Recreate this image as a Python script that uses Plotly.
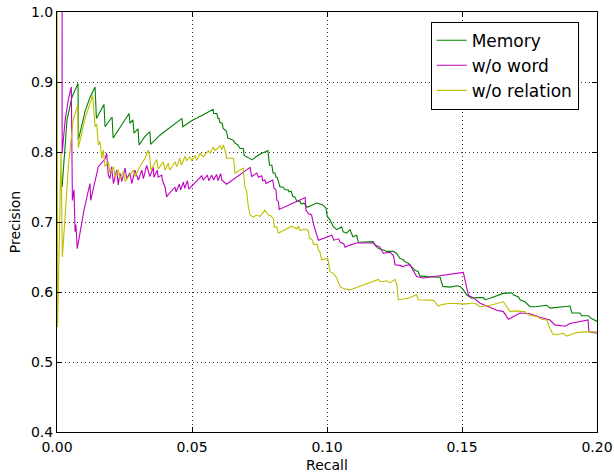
import plotly.graph_objects as go

# ---- data (recall, precision) ----
memory_recall = [0.0019, 0.0037, 0.0056, 0.0078, 0.0079, 0.0104, 0.0122, 0.0141, 0.0146, 0.0174,
                 0.0178, 0.0204, 0.0208, 0.0267, 0.0270, 0.0281, 0.0285, 0.0300, 0.0304, 0.0325,
                 0.0344, 0.0347, 0.0381, 0.0420, 0.0463, 0.0466, 0.0500, 0.0540, 0.0578, 0.0580,
                 0.0592, 0.0596, 0.0600, 0.0603, 0.0612, 0.0615, 0.0627, 0.0633, 0.0652, 0.0659,
                 0.0670, 0.0678, 0.0690, 0.0693, 0.0715, 0.0722, 0.0748, 0.0781, 0.0787, 0.0796,
                 0.0800, 0.0807, 0.0811, 0.0815, 0.0826, 0.0837, 0.0844, 0.0856, 0.0859, 0.0867,
                 0.0874, 0.0881, 0.0889, 0.0899, 0.0904, 0.0915, 0.0926, 0.0946, 0.0963, 0.0986,
                 0.0996, 0.1001, 0.1011, 0.1024, 0.1036, 0.1054, 0.1060, 0.1073, 0.1085, 0.1096,
                 0.1110, 0.1116, 0.1147, 0.1171, 0.1178, 0.1190, 0.1209, 0.1221, 0.1246, 0.1258,
                 0.1270, 0.1283, 0.1289, 0.1301, 0.1314, 0.1326, 0.1338, 0.1344, 0.1369, 0.1394,
                 0.1419, 0.1429, 0.1456, 0.1480, 0.1493, 0.1505, 0.1517, 0.1536, 0.1554, 0.1579,
                 0.1585, 0.1604, 0.1616, 0.1641, 0.1653, 0.1684, 0.1690, 0.1709, 0.1715, 0.1733,
                 0.1746, 0.1752, 0.1770, 0.1789, 0.1814, 0.1826, 0.1863, 0.1900, 0.1907, 0.1925,
                 0.1937, 0.1943, 0.1967, 0.1980, 0.1993, 0.2000]
memory_precision = [0.750, 0.846, 0.879, 0.898, 0.817, 0.858, 0.878, 0.893, 0.848, 0.868,
                    0.836, 0.850, 0.820, 0.855, 0.841, 0.846, 0.827, 0.833, 0.810, 0.822,
                    0.829, 0.811, 0.824, 0.836, 0.848, 0.836, 0.845, 0.853, 0.861, 0.855,
                    0.855, 0.848, 0.848, 0.842, 0.841, 0.834, 0.830, 0.820, 0.817, 0.813,
                    0.810, 0.805, 0.805, 0.795, 0.791, 0.789, 0.796, 0.802, 0.781, 0.781,
                    0.770, 0.770, 0.764, 0.764, 0.750, 0.750, 0.746, 0.746, 0.743, 0.744,
                    0.736, 0.736, 0.729, 0.730, 0.726, 0.727, 0.721, 0.724, 0.727, 0.724,
                    0.720, 0.708, 0.703, 0.693, 0.689, 0.693, 0.686, 0.684, 0.689, 0.679,
                    0.681, 0.671, 0.672, 0.672, 0.667, 0.662, 0.660, 0.658, 0.658, 0.655,
                    0.648, 0.646, 0.643, 0.641, 0.636, 0.631, 0.629, 0.623, 0.622, 0.621,
                    0.621, 0.608, 0.607, 0.609, 0.608, 0.603, 0.596, 0.591, 0.592, 0.592,
                    0.589, 0.591, 0.593, 0.596, 0.598, 0.599, 0.596, 0.593, 0.589, 0.586,
                    0.581, 0.579, 0.579, 0.580, 0.581, 0.577, 0.578, 0.580, 0.570, 0.570,
                    0.570, 0.566, 0.566, 0.562, 0.559, 0.558]

word_recall = [0.0019, 0.0019, 0.0030, 0.0042, 0.0053, 0.0057, 0.0063, 0.0067, 0.0070, 0.0075,
               0.0100, 0.0122, 0.0125, 0.0153, 0.0178, 0.0184, 0.0190, 0.0196, 0.0202, 0.0209,
               0.0221, 0.0227, 0.0233, 0.0240, 0.0252, 0.0258, 0.0270, 0.0277, 0.0289, 0.0301,
               0.0314, 0.0320, 0.0332, 0.0344, 0.0357, 0.0359, 0.0371, 0.0375, 0.0388, 0.0390,
               0.0400, 0.0406, 0.0412, 0.0437, 0.0441, 0.0453, 0.0458, 0.0468, 0.0473, 0.0483,
               0.0488, 0.0536, 0.0542, 0.0557, 0.0562, 0.0573, 0.0580, 0.0591, 0.0596, 0.0606,
               0.0610, 0.0628, 0.0715, 0.0721, 0.0740, 0.0746, 0.0758, 0.0762, 0.0770, 0.0774,
               0.0799, 0.0804, 0.0811, 0.0814, 0.0820, 0.0823, 0.0919, 0.0922, 0.0931, 0.0943,
               0.0949, 0.0956, 0.0968, 0.1018, 0.1025, 0.1043, 0.1049, 0.1062, 0.1067, 0.1085,
               0.1110, 0.1171, 0.1178, 0.1196, 0.1209, 0.1233, 0.1246, 0.1252, 0.1270, 0.1283,
               0.1289, 0.1307, 0.1320, 0.1332, 0.1357, 0.1505, 0.1524, 0.1542, 0.1567, 0.1592,
               0.1610, 0.1629, 0.1653, 0.1672, 0.1715, 0.1752, 0.1789, 0.1826, 0.1844, 0.1883,
               0.1900, 0.1967, 0.1970, 0.1993, 0.2000]
word_precision = [1.000, 0.798, 0.845, 0.875, 0.893, 0.731, 0.746, 0.686, 0.696, 0.662,
                  0.717, 0.755, 0.731, 0.779, 0.790, 0.798, 0.767, 0.762, 0.779, 0.755,
                  0.774, 0.753, 0.770, 0.758, 0.777, 0.762, 0.770, 0.755, 0.774, 0.760,
                  0.774, 0.762, 0.781, 0.765, 0.778, 0.764, 0.774, 0.764, 0.767, 0.760,
                  0.750, 0.736, 0.739, 0.750, 0.743, 0.754, 0.746, 0.757, 0.748, 0.759,
                  0.747, 0.766, 0.760, 0.767, 0.759, 0.767, 0.760, 0.768, 0.759, 0.769,
                  0.760, 0.754, 0.778, 0.765, 0.770, 0.764, 0.766, 0.759, 0.760, 0.755,
                  0.760, 0.748, 0.746, 0.731, 0.729, 0.718, 0.735, 0.717, 0.712, 0.710,
                  0.698, 0.690, 0.674, 0.681, 0.674, 0.676, 0.671, 0.669, 0.664, 0.667,
                  0.670, 0.670, 0.667, 0.664, 0.655, 0.657, 0.652, 0.639, 0.638, 0.636,
                  0.638, 0.639, 0.630, 0.622, 0.620, 0.628, 0.595, 0.592, 0.584, 0.580,
                  0.577, 0.574, 0.572, 0.561, 0.570, 0.569, 0.564, 0.560, 0.553, 0.551,
                  0.555, 0.560, 0.543, 0.542, 0.541]

relation_recall = [0.0001, 0.0002, 0.0015, 0.0020, 0.0042, 0.0060, 0.0077, 0.0079, 0.0104, 0.0132,
                   0.0141, 0.0147, 0.0153, 0.0159, 0.0166, 0.0171, 0.0178, 0.0190, 0.0196, 0.0209,
                   0.0215, 0.0227, 0.0233, 0.0246, 0.0252, 0.0283, 0.0289, 0.0307, 0.0326, 0.0338,
                   0.0344, 0.0348, 0.0369, 0.0375, 0.0394, 0.0400, 0.0412, 0.0418, 0.0437, 0.0443,
                   0.0455, 0.0461, 0.0474, 0.0480, 0.0492, 0.0499, 0.0511, 0.0517, 0.0530, 0.0542,
                   0.0561, 0.0567, 0.0579, 0.0585, 0.0604, 0.0610, 0.0616, 0.0626, 0.0628, 0.0654,
                   0.0659, 0.0690, 0.0696, 0.0702, 0.0708, 0.0715, 0.0727, 0.0739, 0.0752, 0.0770,
                   0.0783, 0.0792, 0.0802, 0.0804, 0.0814, 0.0820, 0.0869, 0.0875, 0.0888, 0.0894,
                   0.0900, 0.0919, 0.0931, 0.0935, 0.0944, 0.0951, 0.0964, 0.0968, 0.0974, 0.0980,
                   0.1003, 0.1011, 0.1023, 0.1036, 0.1048, 0.1060, 0.1085, 0.1190, 0.1196, 0.1209,
                   0.1221, 0.1233, 0.1252, 0.1259, 0.1264, 0.1301, 0.1332, 0.1338, 0.1369, 0.1394,
                   0.1412, 0.1425, 0.1456, 0.1481, 0.1499, 0.1518, 0.1530, 0.1548, 0.1567, 0.1604,
                   0.1629, 0.1653, 0.1666, 0.1678, 0.1696, 0.1715, 0.1733, 0.1746, 0.1764, 0.1777,
                   0.1795, 0.1814, 0.1826, 0.1836, 0.1851, 0.1875, 0.1888, 0.1900, 0.1925, 0.1949,
                   0.1974, 0.2000]
relation_precision = [1.000, 0.550, 0.800, 0.650, 0.779, 0.846, 0.867, 0.806, 0.848, 0.881,
                      0.836, 0.840, 0.810, 0.815, 0.791, 0.803, 0.779, 0.786, 0.770, 0.779,
                      0.765, 0.775, 0.762, 0.772, 0.758, 0.774, 0.765, 0.779, 0.791, 0.803,
                      0.791, 0.774, 0.789, 0.776, 0.786, 0.774, 0.784, 0.774, 0.786, 0.779,
                      0.791, 0.781, 0.794, 0.788, 0.793, 0.788, 0.795, 0.788, 0.798, 0.793,
                      0.802, 0.798, 0.807, 0.802, 0.809, 0.803, 0.810, 0.798, 0.791, 0.791,
                      0.770, 0.777, 0.750, 0.745, 0.724, 0.710, 0.707, 0.710, 0.708, 0.717,
                      0.710, 0.709, 0.704, 0.693, 0.693, 0.684, 0.694, 0.693, 0.690, 0.694,
                      0.688, 0.690, 0.688, 0.677, 0.675, 0.668, 0.668, 0.660, 0.657, 0.646,
                      0.648, 0.629, 0.627, 0.620, 0.608, 0.605, 0.603, 0.618, 0.615, 0.615,
                      0.616, 0.613, 0.618, 0.610, 0.589, 0.591, 0.596, 0.589, 0.589, 0.588,
                      0.580, 0.582, 0.584, 0.583, 0.583, 0.583, 0.584, 0.584, 0.579, 0.581,
                      0.583, 0.586, 0.579, 0.572, 0.573, 0.573, 0.572, 0.567, 0.566, 0.565,
                      0.561, 0.560, 0.548, 0.540, 0.539, 0.541, 0.537, 0.539, 0.542, 0.543,
                      0.543, 0.543]

series_names = ["Memory", "w/o word", "w/o relation"]
series_colors = ["#008000", "#bf00bf", "#bfbf00"]

x_ticks = [0.00, 0.05, 0.10, 0.15, 0.20]
x_tick_labels = ["0.00", "0.05", "0.10", "0.15", "0.20"]
y_ticks = [0.4, 0.5, 0.6, 0.7, 0.8, 0.9, 1.0]
y_tick_labels = ["0.4", "0.5", "0.6", "0.7", "0.8", "0.9", "1.0"]

FONT = "DejaVu Sans"

fig = go.Figure()
data = [(memory_recall, memory_precision),
        (word_recall, word_precision),
        (relation_recall, relation_precision)]
for i, ((rx, py), name, col) in enumerate(zip(data, series_names, series_colors)):
    fig.add_trace(go.Scatter(x=rx, y=py, mode="lines", name=name,
                             line=dict(color=col, width=1.1)))

axis_common = dict(showline=True, linecolor="black", linewidth=1, mirror="ticks",
                   ticks="inside", ticklen=5, tickcolor="black", automargin=False,
                   showgrid=True, gridcolor="#333333", griddash="1px,3px", gridwidth=1,
                   zeroline=False, tickfont=dict(family=FONT, size=14, color="black"))

fig.update_layout(
    width=614, height=473,
    margin=dict(l=57, r=17, t=12, b=41, autoexpand=False),
    paper_bgcolor="white", plot_bgcolor="white",
    font=dict(family=FONT, color="black"),
    showlegend=True,
    legend=dict(x=0.966, y=0.977, xanchor="right", yanchor="top",
                bordercolor="black", borderwidth=1, bgcolor="white",
                font=dict(family=FONT, size=17, color="black"),
                itemwidth=30),
    xaxis=dict(range=[0, 0.2], tickvals=x_ticks, ticktext=x_tick_labels,
               ticklabelstandoff=2,
               title=dict(text="Recall", font=dict(family=FONT, size=14), standoff=7),
               **axis_common),
    yaxis=dict(range=[0.4, 1.0], tickvals=y_ticks, ticktext=y_tick_labels,
               title=dict(text="Precision", font=dict(family=FONT, size=14), standoff=7),
               **axis_common),
)

fig.write_html("out.html", config={"displayModeBar": False},
               post_script="document.body.style.margin='0';document.body.style.padding='0';")
